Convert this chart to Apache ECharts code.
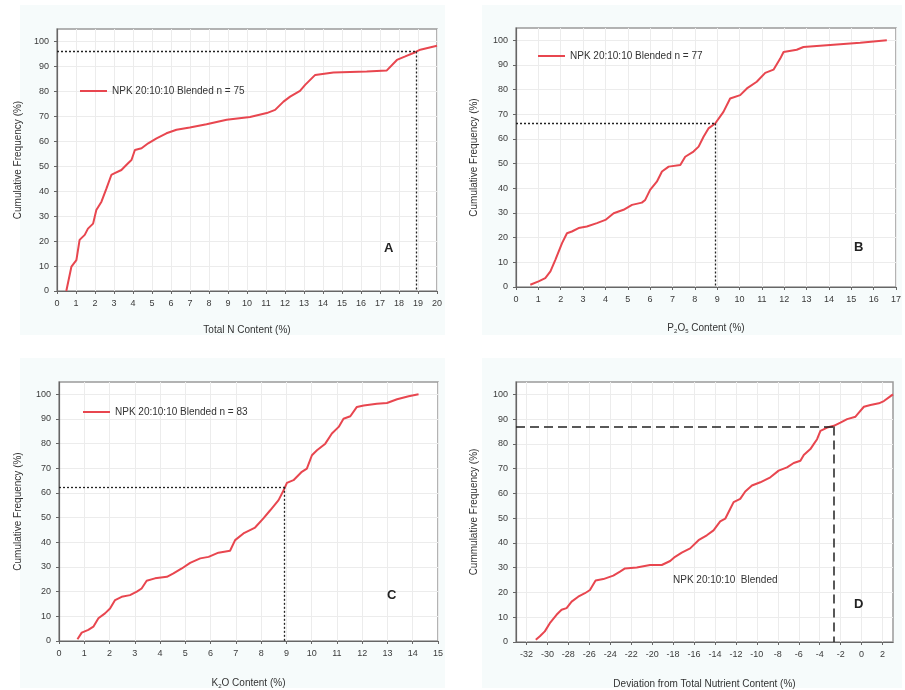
<!DOCTYPE html>
<html><head><meta charset="utf-8">
<script src="https://cdn.jsdelivr.net/npm/echarts@6/dist/echarts.min.js"></script>
<style>html,body{margin:0;padding:0;background:#fff}#c{width:905px;height:690px}</style>
</head><body><div id="c"></div>
<script>
// ---- Data ----
const nameA = 'NPK 20:10:10 Blended n = 75';
const nameB = 'NPK 20:10:10 Blended n = 77';
const nameC = 'NPK 20:10:10 Blended n = 83';
const nameD = 'NPK 20:10:10  Blended';

const xA = [0.49,0.76,1.02,1.19,1.46,1.63,1.9,2.07,2.34,2.6,2.86,3.04,3.39,3.74,3.92,4.1,4.45,4.8,5.24,5.76,6.29,6.99,7.87,8.93,10.16,11.04,11.48,11.92,12.27,12.79,13.06,13.59,14.55,16.3,17.36,17.89,18.33,18.86,19.12,20];
const yA = [0,9.8,12.4,20.5,22.5,25,27,32.5,35.8,41,46.5,47.2,48.5,51.2,52.5,56.5,57.2,59.2,61.2,63.2,64.6,65.5,66.8,68.6,69.7,71.3,72.6,75.9,77.9,80.2,82.6,86.6,87.6,88,88.4,92.6,94,95.7,96.7,98.3];

const xB = [0.64,1.01,1.31,1.54,1.76,2.06,2.28,2.5,2.8,3.17,3.62,4.0,4.37,4.81,5.19,5.63,5.78,6.0,6.3,6.53,6.83,7.35,7.57,7.94,8.17,8.39,8.61,8.91,9.28,9.58,10.03,10.33,10.77,11.15,11.52,11.82,11.97,12.56,12.86,14.2,15.4,16.59];
const yB = [0.9,2.3,3.6,6.3,11,17.8,21.8,22.5,23.9,24.5,25.9,27.2,29.9,31.3,33.3,34.2,35.3,39.4,42.7,46.8,48.8,49.5,52.8,54.9,56.9,60.9,64.3,66.3,71,76.4,77.8,80.5,83.2,86.8,88.1,92.6,95.3,96.2,97.3,98.2,99,100];

const xC = [0.73,0.9,1.16,1.36,1.56,1.82,2.02,2.22,2.48,2.81,3.08,3.27,3.47,3.8,4.27,4.53,4.86,5.19,5.59,5.92,6.31,6.77,6.97,7.3,7.76,8.09,8.36,8.69,8.89,9.02,9.28,9.61,9.81,10.01,10.21,10.54,10.8,11.07,11.26,11.53,11.79,12.06,12.58,12.98,13.38,13.84,14.23];
const yC = [0.7,3.4,4.5,5.8,9.2,11.2,13.2,16.6,17.9,18.6,20,21.3,24.4,25.4,26,27.4,29.4,31.7,33.5,34.1,35.8,36.6,40.9,43.6,46,49.7,53,57.1,61.1,64.1,65.2,68.6,69.9,75.3,77.3,80,84.1,86.8,90.1,91.1,94.9,95.5,96.2,96.5,98,99.2,100];

const xD = [-31.11,-30.72,-30.25,-29.77,-29.13,-28.65,-28.17,-27.69,-27.06,-26.42,-25.94,-25.4,-24.66,-23.71,-23.07,-22.59,-21.47,-20.2,-19.08,-18.28,-17.81,-17.17,-16.37,-15.57,-14.78,-14.14,-13.5,-13.02,-12.54,-12.22,-11.59,-11.11,-10.47,-9.67,-8.71,-7.92,-7.12,-6.48,-5.84,-5.52,-4.89,-4.57,-4.25,-3.93,-3.29,-2.65,-2.02,-1.38,-0.58,-0.26,0.22,0.85,1.65,2.13,2.77,3.0];
const yD = [0.9,2.3,4.3,7.6,11,13,13.7,16.3,18.3,19.7,21,24.8,25.4,26.8,28.4,29.7,30.1,31.1,31.1,32.7,34.4,36.1,37.8,41.1,43.1,45.1,48.7,49.8,53.8,56.5,57.8,60.8,63.2,64.5,66.5,69.2,70.5,72.3,73.2,75.5,77.9,79.9,81.9,85.3,86.6,87.3,88.6,90,91,92.6,95,95.7,96.4,97.3,99.3,100];

// reference (x, y) read-off points
const refA = [18.9, 96];
const refB = [8.9, 66.3];
const refC = [8.9, 62.5];
const refD = [-2.7, 87];

const yTicks = [0,10,20,30,40,50,60,70,80,90,100];
const xTicksD = [-32,-30,-28,-26,-24,-22,-20,-18,-16,-14,-12,-10,-8,-6,-4,-2,0,2];
const xRangeA = [0, 20], xRangeB = [0, 17], xRangeC = [0, 15], xRangeD = [-33, 3];
const yRange = [0, 105];
const letters = ['A','B','C','D'];

// ---- Chart ----
const zip = (xs, ys) => xs.map((x, i) => [x, ys[i]]);
const FONT = 'Liberation Sans, Arial, sans-serif';
const RED = '#e8464f';

const grids = [
  {left: 57, top: 29, width: 380, height: 262},
  {left: 516, top: 28, width: 380, height: 259},
  {left: 59, top: 382, width: 379, height: 259},
  {left: 516, top: 382, width: 377, height: 262}
].map(g => Object.assign({show: true, borderColor: '#9a9a9a', borderWidth: 1.5, backgroundColor: '#fff'}, g));

const xNames = ['Total N Content (%)', 'P{sub|2}O{sub|5} Content (%)', 'K{sub|2}O Content (%)', 'Deviation from Total Nutrient Content (%)'];
const yNames = ['Cumulative Frequency (%)','Cumulative Frequency (%)','Cumulative Frequency (%)','Cummulative Frequency (%)'];
const xRanges = [xRangeA, xRangeB, xRangeC, xRangeD];
const xGaps = [34, 35, 36, 37];
const yGaps = [34, 37, 36, 37];

const axisCommon = {
  axisLine: {show: true, onZero: false, lineStyle: {color: '#666', width: 1.2}},
  axisTick: {show: true, length: 3, lineStyle: {color: '#666'}},
  axisLabel: {color: '#3a3a3a', fontSize: 9, fontFamily: FONT},
  splitLine: {show: true, lineStyle: {color: '#ececec', width: 1}},
  nameTextStyle: {color: '#333', fontSize: 10, fontFamily: FONT, rich: {sub: {fontSize: 6, verticalAlign: 'bottom', padding: [6,0,0,0], color: '#333', fontFamily: FONT}}}
};

const xAxes = xRanges.map((r, i) => {
  const ax = Object.assign({}, axisCommon, {
    type: 'value', gridIndex: i, min: r[0], max: r[1],
    name: xNames[i], nameLocation: 'middle', nameGap: xGaps[i]
  });
  if (i === 3) {
    ax.axisTick = Object.assign({}, axisCommon.axisTick, {customValues: xTicksD});
    ax.axisLabel = Object.assign({}, axisCommon.axisLabel, {customValues: xTicksD});
  } else {
    ax.interval = 1;
  }
  return ax;
});

const yAxes = [0,1,2,3].map(i => Object.assign({}, axisCommon, {
  type: 'value', gridIndex: i, min: yRange[0], max: yRange[1],
  name: yNames[i], nameLocation: 'middle', nameGap: yGaps[i],
  axisTick: Object.assign({}, axisCommon.axisTick, {customValues: yTicks}),
  axisLabel: Object.assign({}, axisCommon.axisLabel, {customValues: yTicks})
}));

function refLine(ref, xmin, dash) {
  return {
    silent: true, symbol: 'none', animation: false,
    label: {show: false},
    lineStyle: {color: '#222', width: dash ? 1.5 : 1.3, type: dash ? [9, 5] : [2, 2]},
    data: [
      [{coord: [xmin, ref[1]]}, {coord: [ref[0], ref[1]]}],
      [{coord: [ref[0], ref[1]]}, {coord: [ref[0], 0]}]
    ]
  };
}

const datasets = [[xA,yA,nameA,refA,xRangeA[0]],[xB,yB,nameB,refB,xRangeB[0]],[xC,yC,nameC,refC,xRangeC[0]],[xD,yD,nameD,refD,xRangeD[0]]];
const series = datasets.map((d, i) => ({
  type: 'line', name: d[2], xAxisIndex: i, yAxisIndex: i,
  data: zip(d[0], d[1]), symbol: 'none', smooth: false,
  lineStyle: {color: RED, width: 2}, itemStyle: {color: RED},
  markLine: refLine(d[3], d[4], i === 3)
}));

const legendPos = [{left: 80, top: 86}, {left: 538, top: 51}, {left: 83, top: 407}];
const legends = legendPos.map((p, i) => ({
  left: p.left, top: p.top, padding: 0, data: [datasets[i][2]], icon: 'rect', itemWidth: 27, itemHeight: 2, itemGap: 0,
  textStyle: {color: '#333', fontSize: 10, fontFamily: FONT}, selectedMode: false
}));

const letterPos = [[384, 242], [854, 241], [387, 589], [854, 598]];
const panelBg = [[20,5,425,330],[482,5,420,330],[20,358,425,330],[482,358,420,330]];
const graphic = panelBg.map(b => ({type: 'rect', z: -100, silent: true, shape: {x: b[0], y: b[1], width: b[2], height: b[3]}, style: {fill: '#f6fbfb'}}))
  .concat(letterPos.map((p, i) => ({type: 'text', x: p[0], y: p[1], z: 100, silent: true,
    style: {text: letters[i], fill: '#222', font: 'bold 13px ' + FONT}})))
  .concat([{type: 'text', x: 673, y: 575, z: 100, silent: true, style: {text: nameD, fill: '#333', font: '10px ' + FONT}}]);

const chart = echarts.init(document.getElementById('c'), null, {renderer: 'canvas'});
chart.setOption({
  animation: false,
  backgroundColor: '#fff',
  grid: grids, xAxis: xAxes, yAxis: yAxes, series: series,
  legend: legends, graphic: graphic
});
</script></body></html>
